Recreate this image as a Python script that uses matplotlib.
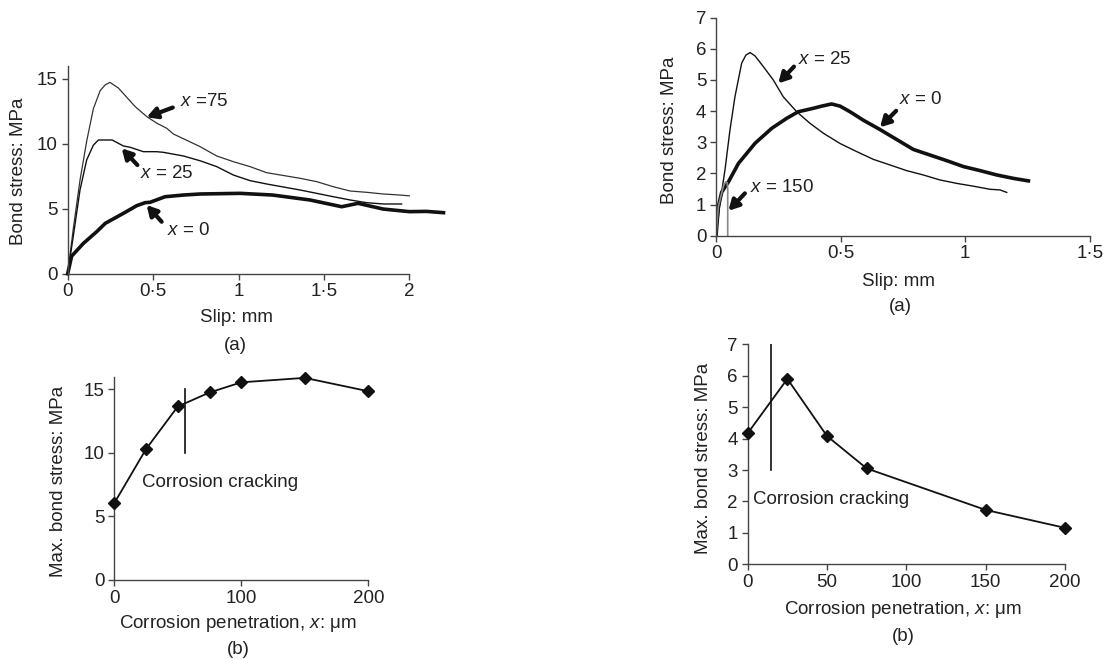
import matplotlib
matplotlib.use("Agg")
import matplotlib.pyplot as plt

plt.rcParams['font.family'] = ['Liberation Sans', 'DejaVu Sans']
plt.rcParams['mathtext.fontset'] = 'custom'
plt.rcParams['mathtext.it'] = 'Liberation Sans:italic'
plt.rcParams['mathtext.rm'] = 'Liberation Sans'

# ---------------- data: panel A (left top) ----------------
a_x75_slip = [0, 0.033, 0.072, 0.111, 0.15, 0.19, 0.22, 0.247, 0.297, 0.345, 0.395, 0.463, 0.521,
              0.58, 0.619, 0.775, 0.872, 0.97, 1.067, 1.165, 1.36, 1.458, 1.555, 1.653, 1.75,
              1.848, 1.945, 2.0]
a_x75_stress = [0, 3.5, 7.2, 10.2, 12.7, 14.1, 14.55, 14.74, 14.3, 13.6, 12.87, 12.1, 11.6,
                11.2, 10.76, 9.79, 9.07, 8.63, 8.25, 7.78, 7.35, 7.09, 6.7, 6.37, 6.27,
                6.14, 6.06, 6.0]
a_x25_slip = [0, 0.035, 0.072, 0.111, 0.15, 0.18, 0.26, 0.326, 0.365, 0.443, 0.52, 0.56, 0.677,
              0.775, 0.872, 0.97, 1.067, 1.165, 1.36, 1.555, 1.653, 1.75, 1.848, 1.955]
a_x25_stress = [0, 3.1, 6.45, 8.76, 9.9, 10.3, 10.3, 9.84, 9.74, 9.4, 9.4, 9.35, 9.07,
                8.7, 8.25, 7.6, 7.17, 6.91, 6.45, 5.93, 5.68, 5.47, 5.37, 5.37]
a_x0_slip = [0, 0.023, 0.092, 0.17, 0.22, 0.326, 0.404, 0.453, 0.482, 0.57, 0.677, 0.775, 1.009,
             1.2, 1.418, 1.604, 1.7, 1.847, 2.0, 2.1, 2.2]
a_x0_stress = [0, 1.35, 2.34, 3.24, 3.88, 4.65, 5.24, 5.47, 5.5, 5.93, 6.06, 6.14, 6.19,
               6.06, 5.68, 5.16, 5.42, 4.98, 4.78, 4.8, 4.7]

# ---------------- data: panel B (right top) ----------------
b_x25_slip = [0, 0.016, 0.036, 0.056, 0.076, 0.103, 0.12, 0.137, 0.157, 0.19, 0.23, 0.27,
              0.324, 0.377, 0.431, 0.498, 0.565, 0.632, 0.699, 0.765, 0.832, 0.899, 0.966,
              1.033, 1.1, 1.14, 1.167]
b_x25_stress = [0, 1.04, 2.11, 3.39, 4.46, 5.54, 5.8, 5.88, 5.77, 5.43, 5.0, 4.46,
                3.98, 3.61, 3.29, 2.96, 2.7, 2.45, 2.27, 2.09, 1.95, 1.79, 1.68,
                1.59, 1.49, 1.47, 1.39]
b_x0_slip = [0, 0.0094, 0.023, 0.05, 0.09, 0.157, 0.224, 0.284, 0.33, 0.39,
             0.424, 0.464, 0.498, 0.538, 0.591, 0.658, 0.725, 0.792, 0.859, 0.926, 0.993,
             1.06, 1.127, 1.194, 1.254]
b_x0_stress = [0, 0.93, 1.4, 1.73, 2.32, 2.97, 3.45, 3.77, 3.98, 4.09,
               4.16, 4.23, 4.16, 3.98, 3.71, 3.41, 3.09, 2.77, 2.59, 2.41, 2.22,
               2.09, 1.95, 1.84, 1.76]
b_x150_slip = [0, 0.0094, 0.03, 0.039, 0.045, 0.047, 0.047]
b_x150_stress = [0, 0.93, 1.6, 1.73, 1.7, 1.5, 0]

# ---------------- data: panel C (left bottom) ----------------
c_penetration = [0, 25, 50, 75, 100, 150, 200]
c_max_stress = [6.05, 10.3, 13.65, 14.75, 15.55, 15.9, 14.85]
c_crack_x = 55.6
c_crack_y = [10, 15]

# ---------------- data: panel D (right bottom) ----------------
d_penetration = [0, 25, 50, 75, 150, 200]
d_max_stress = [4.17, 5.9, 4.08, 3.05, 1.73, 1.16]
d_crack_x = 15
d_crack_y = [3, 7]

W, H = 1104, 659
fig = plt.figure(figsize=(W / 100, H / 100), dpi=100)

TXT = '#222222'
AX = '#444444'
FS = 13.5


def px_axes(x0, y0, x1, y1):
    """axes from pixel box (left, top, right, bottom)"""
    return fig.add_axes([x0 / W, 1 - y1 / H, (x1 - x0) / W, (y1 - y0) / H])


def style(ax):
    for s in ['top', 'right']:
        ax.spines[s].set_visible(False)
    for s in ['left', 'bottom']:
        ax.spines[s].set_color(AX)
        ax.spines[s].set_linewidth(1.0)
    ax.tick_params(direction='out', length=4, width=1.0, color=AX,
                   labelsize=FS, labelcolor=TXT, pad=3)


def ftext(x, y, s, **kw):
    fig.text(x / W, 1 - y / H, s, fontsize=FS, color=TXT, ha='center', va='center', **kw)


def arrow(ax, tail, tip, lw=3.0):
    ax.annotate('', xy=tip, xytext=tail,
                arrowprops=dict(arrowstyle='-|>,head_length=0.6,head_width=0.33',
                                lw=lw, color='#111111', shrinkA=0, shrinkB=0))


# ---------- Panel A ----------
axA = px_axes(67.7, 66, 443.5, 273.7)
style(axA)
axA.plot(a_x75_slip, a_x75_stress, color='#333333', lw=0.9)
axA.plot(a_x25_slip, a_x25_stress, color='#111111', lw=1.0)
axA.plot(a_x0_slip, a_x0_stress, color='#111111', lw=2.6, clip_on=False)
axA.set_xlim(0, 2.2)
axA.set_ylim(0, 16)
axA.spines['bottom'].set_bounds(0, 2)
axA.spines['left'].set_bounds(0, 16)
axA.set_xticks([0, 0.5, 1, 1.5, 2], ['0', '0·5', '1', '1·5', '2'])
axA.set_yticks([0, 5, 10, 15])
axA.text(0.658, 13.25, r'$x$ =75', fontsize=FS, color=TXT, va='center')
arrow(axA, (0.615, 12.8), (0.462, 12.05))
axA.text(0.423, 7.73, r'$x$ = 25', fontsize=FS, color=TXT, va='center')
arrow(axA, (0.408, 8.37), (0.316, 9.66))
axA.text(0.58, 3.36, r'$x$ = 0', fontsize=FS, color=TXT, va='center')
arrow(axA, (0.55, 4.0), (0.462, 5.29))
ftext(18.3, 171.7, 'Bond stress: MPa', rotation=90)
ftext(236, 318, 'Slip: mm')
ftext(235, 345, '(a)')

# ---------- Panel B ----------
axB = px_axes(716, 17.7, 1089.7, 235.7)
style(axB)
axB.plot(b_x25_slip, b_x25_stress, color='#111111', lw=1.0)
axB.plot(b_x0_slip, b_x0_stress, color='#111111', lw=2.6)
axB.plot(b_x150_slip, b_x150_stress, color='#888888', lw=1.2)
axB.set_xlim(0, 1.5)
axB.set_ylim(0, 7)
axB.set_xticks([0, 0.5, 1, 1.5], ['0', '0·5', '1', '1·5'])
axB.set_yticks(range(0, 8))
axB.text(0.33, 5.66, r'$x$ = 25', fontsize=FS, color=TXT, va='center')
arrow(axB, (0.313, 5.43), (0.25, 4.89))
axB.text(0.736, 4.38, r'$x$ = 0', fontsize=FS, color=TXT, va='center')
arrow(axB, (0.723, 4.01), (0.658, 3.48))
axB.text(0.136, 1.54, r'$x$ = 150', fontsize=FS, color=TXT, va='center')
arrow(axB, (0.116, 1.36), (0.05, 0.8))
ftext(670, 130, 'Bond stress: MPa', rotation=90)
ftext(899, 281.7, 'Slip: mm')
ftext(900, 306.7, '(a)')

# ---------- Panel C ----------
axC = px_axes(114.3, 376.6, 368.3, 580)
style(axC)
axC.plot(c_penetration, c_max_stress, color='#111111', lw=1.3, marker='D', ms=6.5,
         mfc='#111111', mec='#111111', clip_on=False, zorder=3)
axC.plot([c_crack_x, c_crack_x], c_crack_y, color='#111111', lw=1.2)
axC.set_xlim(0, 200)
axC.set_ylim(0, 16)
axC.set_xticks([0, 100, 200])
axC.set_yticks([0, 5, 10, 15])
axC.text(21.5, 7.66, 'Corrosion cracking', fontsize=FS, color=TXT, va='center')
ftext(58.3, 481.7, 'Max. bond stress: MPa', rotation=90)
ftext(238, 623, r'Corrosion penetration, $x$: μm')
ftext(238, 650, '(b)')

# ---------- Panel D ----------
axD = px_axes(747.7, 344.3, 1065, 564.3)
style(axD)
axD.plot(d_penetration, d_max_stress, color='#111111', lw=1.3, marker='D', ms=6.5,
         mfc='#111111', mec='#111111', clip_on=False, zorder=3)
axD.plot([d_crack_x, d_crack_x], d_crack_y, color='#111111', lw=1.2)
axD.set_xlim(0, 200)
axD.set_ylim(0, 7)
axD.set_xticks([0, 50, 100, 150, 200])
axD.set_yticks(range(0, 8))
axD.text(3.6, 2.05, 'Corrosion cracking', fontsize=FS, color=TXT, va='center')
ftext(703.3, 458, 'Max. bond stress: MPa', rotation=90)
ftext(903, 610, r'Corrosion penetration, $x$: μm')
ftext(903, 636.7, '(b)')

fig.savefig('out.png', dpi=100, facecolor='white')
